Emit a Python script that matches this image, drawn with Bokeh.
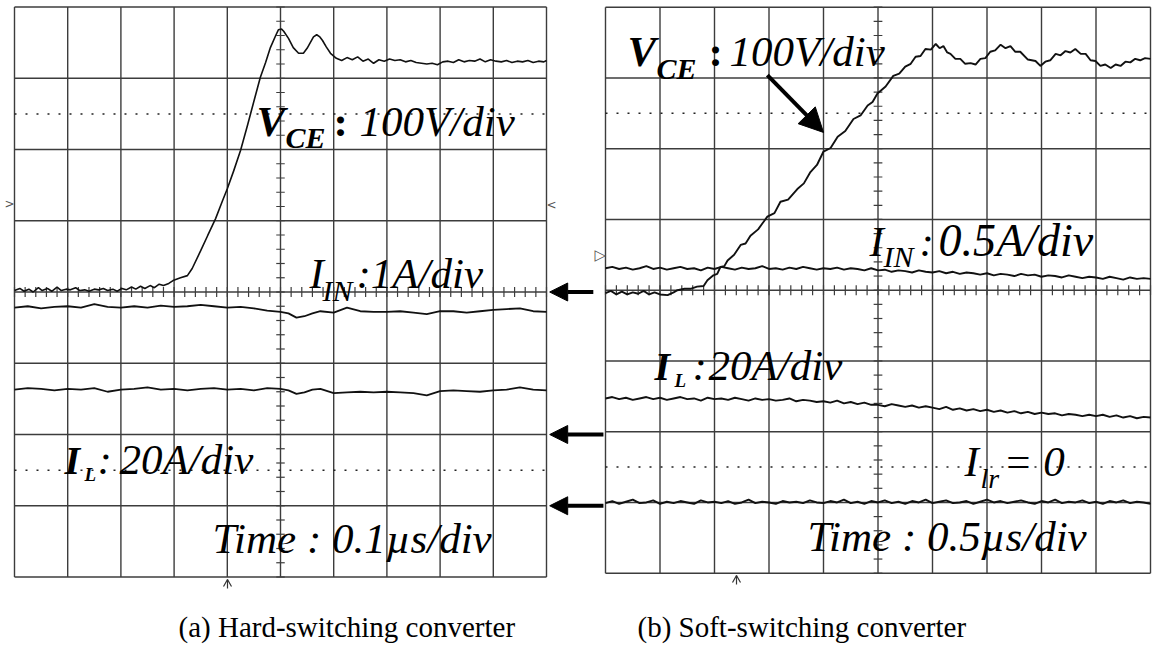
from bokeh.plotting import figure
from bokeh.models import Range1d, Arrow, NormalHead
from bokeh.core.properties import value
from bokeh.embed import file_html
from bokeh.resources import INLINE

# ---------------- data (scope divisions: time 0..10 div, amplitude -4..+4 div) ----------------
# (a) hard-switching converter
a_vce_t = [0.00, 0.10, 0.18, 0.27, 0.35, 0.45, 0.52, 0.62, 0.70, 0.80, 0.88, 0.97, 1.05, 1.15, 1.23,
           1.32, 1.40, 1.50, 1.58, 1.67, 1.75, 1.85, 1.93, 2.02, 2.10, 2.20, 2.28, 2.37, 2.45, 2.55,
           2.63, 2.72, 2.80, 2.90, 2.98, 3.12, 3.25, 3.34, 3.50, 3.63, 3.78, 3.91, 4.00, 4.12, 4.25,
           4.38, 4.49, 4.62, 4.72, 4.81, 4.91, 4.96, 5.02, 5.06, 5.15, 5.24, 5.34, 5.43, 5.50, 5.56,
           5.62, 5.68, 5.74, 5.79, 5.86, 5.94, 6.05, 6.15, 6.25, 6.35, 6.45, 6.55, 6.65, 6.75, 6.85,
           6.95, 7.05, 7.15, 7.25, 7.35, 7.45, 7.55, 7.65, 7.75, 7.85, 7.95, 8.05, 8.15, 8.25, 8.35,
           8.45, 8.55, 8.65, 8.75, 8.85, 8.95, 9.05, 9.15, 9.25, 9.35, 9.45, 9.55, 9.65, 9.75, 9.85,
           9.95, 10.00]
a_vce_v = [0.02, 0.05, 0.01, 0.04, 0.00, 0.06, 0.02, 0.05, 0.01, 0.07, 0.02, 0.04, 0.03, 0.06, 0.02,
           0.03, 0.01, 0.04, 0.03, 0.05, 0.02, 0.04, 0.01, 0.05, 0.03, 0.07, 0.04, 0.08, 0.05, 0.09,
           0.06, 0.11, 0.09, 0.12, 0.16, 0.20, 0.23, 0.33, 0.58, 0.79, 1.03, 1.28, 1.45, 1.70, 1.99,
           2.34, 2.65, 3.01, 3.22, 3.43, 3.60, 3.68, 3.69, 3.66, 3.56, 3.43, 3.35, 3.35, 3.42, 3.50,
           3.58, 3.61, 3.58, 3.53, 3.44, 3.35, 3.28, 3.25, 3.29, 3.26, 3.30, 3.24, 3.27, 3.21, 3.26,
           3.24, 3.27, 3.25, 3.26, 3.23, 3.25, 3.22, 3.21, 3.20, 3.21, 3.19, 3.23, 3.24, 3.22, 3.26,
           3.23, 3.25, 3.24, 3.27, 3.23, 3.26, 3.24, 3.23, 3.25, 3.22, 3.24, 3.23, 3.25, 3.22, 3.24,
           3.23, 3.25]
a_cur_t = [0.00, 0.25, 0.50, 0.75, 1.00, 1.25, 1.50, 1.75, 2.00, 2.25, 2.50, 2.75, 3.00, 3.25, 3.50,
           3.75, 4.00, 4.25, 4.50, 4.75, 5.00, 5.15, 5.30, 5.45, 5.60, 5.75, 6.00, 6.25, 6.50, 6.75,
           7.00, 7.25, 7.50, 7.75, 8.00, 8.25, 8.50, 8.75, 9.00, 9.25, 9.50, 9.75, 10.00]
a_iin_v = [-0.22, -0.20, -0.23, -0.21, -0.20, -0.22, -0.17, -0.21, -0.22, -0.20, -0.22, -0.19, -0.21,
           -0.20, -0.18, -0.20, -0.22, -0.21, -0.23, -0.26, -0.28, -0.30, -0.36, -0.34, -0.30, -0.27,
           -0.29, -0.22, -0.27, -0.28, -0.28, -0.27, -0.29, -0.31, -0.27, -0.27, -0.29, -0.27, -0.25,
           -0.24, -0.23, -0.27, -0.28]
a_il_v = [-1.37, -1.35, -1.36, -1.38, -1.36, -1.37, -1.35, -1.40, -1.37, -1.36, -1.34, -1.37, -1.36,
          -1.38, -1.36, -1.35, -1.37, -1.36, -1.38, -1.35, -1.36, -1.38, -1.43, -1.41, -1.37, -1.36,
          -1.42, -1.41, -1.40, -1.41, -1.40, -1.41, -1.42, -1.45, -1.39, -1.38, -1.39, -1.40, -1.38,
          -1.37, -1.34, -1.37, -1.38]
a_ground_levels = [0, -2, -3]

# (b) soft-switching converter
b_vce_t = [0.00, 0.10, 0.20, 0.30, 0.40, 0.50, 0.60, 0.70, 0.80, 0.90, 1.00, 1.14, 1.25, 1.32, 1.45,
           1.56, 1.68, 1.80, 1.87, 1.98, 2.05, 2.11, 2.18, 2.24, 2.36, 2.48, 2.57, 2.66, 2.80, 2.97,
           3.10, 3.21, 3.35, 3.52, 3.64, 3.76, 3.88, 4.00, 4.13, 4.26, 4.40, 4.55, 4.68, 4.81, 4.90,
           4.99, 5.14, 5.28, 5.39, 5.50, 5.60, 5.69, 5.78, 5.87, 5.97, 6.06, 6.13, 6.20, 6.27, 6.33,
           6.42, 6.51, 6.60, 6.70, 6.79, 6.88, 6.97, 7.06, 7.15, 7.25, 7.34, 7.43, 7.52, 7.61, 7.75,
           7.89, 7.98, 8.07, 8.16, 8.26, 8.35, 8.44, 8.53, 8.62, 8.72, 8.81, 8.90, 8.99, 9.08, 9.17,
           9.27, 9.36, 9.45, 9.54, 9.63, 9.72, 9.81, 9.90, 10.00]
b_vce_v = [-0.04, -0.01, -0.06, -0.02, -0.06, -0.03, -0.05, -0.01, -0.06, -0.03, -0.06, -0.07, -0.03,
           0.00, 0.02, 0.02, 0.05, 0.06, 0.14, 0.21, 0.23, 0.33, 0.34, 0.42, 0.50, 0.64, 0.66, 0.77,
           0.86, 1.04, 1.09, 1.25, 1.28, 1.43, 1.51, 1.67, 1.77, 1.96, 2.01, 2.17, 2.25, 2.42, 2.47,
           2.61, 2.66, 2.78, 2.88, 3.03, 3.06, 3.16, 3.20, 3.30, 3.31, 3.41, 3.40, 3.48, 3.42, 3.45,
           3.36, 3.34, 3.27, 3.27, 3.20, 3.21, 3.19, 3.27, 3.28, 3.37, 3.39, 3.47, 3.42, 3.45, 3.37,
           3.37, 3.26, 3.24, 3.17, 3.23, 3.25, 3.34, 3.32, 3.38, 3.36, 3.41, 3.34, 3.34, 3.25, 3.24,
           3.17, 3.19, 3.14, 3.19, 3.17, 3.23, 3.22, 3.27, 3.25, 3.28, 3.27]
b_cur_t = [0.000, 0.125, 0.250, 0.375, 0.500, 0.625, 0.750, 0.875,
           1.000, 1.125, 1.250, 1.375, 1.500, 1.625, 1.750, 1.875,
           2.000, 2.125, 2.250, 2.375, 2.500, 2.625, 2.750, 2.875,
           3.000, 3.125, 3.250, 3.375, 3.500, 3.625, 3.750, 3.875,
           4.000, 4.125, 4.250, 4.375, 4.500, 4.625, 4.750, 4.875,
           5.000, 5.125, 5.250, 5.375, 5.500, 5.625, 5.750, 5.875,
           6.000, 6.125, 6.250, 6.375, 6.500, 6.625, 6.750, 6.875,
           7.000, 7.125, 7.250, 7.375, 7.500, 7.625, 7.750, 7.875,
           8.000, 8.125, 8.250, 8.375, 8.500, 8.625, 8.750, 8.875,
           9.000, 9.125, 9.250, 9.375, 9.500, 9.625, 9.750, 9.875, 10.000]
b_iin_v = [0.31, 0.33, 0.30, 0.32, 0.29, 0.31, 0.34, 0.30,
           0.32, 0.29, 0.31, 0.33, 0.30, 0.31, 0.28, 0.32,
           0.30, 0.33, 0.31, 0.29, 0.32, 0.30, 0.31, 0.34,
           0.30, 0.31, 0.29, 0.32, 0.30, 0.33, 0.31, 0.29,
           0.31, 0.30, 0.32, 0.29, 0.31, 0.30, 0.28, 0.31,
           0.28, 0.29, 0.26, 0.28, 0.27, 0.25, 0.28, 0.26,
           0.25, 0.27, 0.24, 0.26, 0.23, 0.25, 0.24, 0.22,
           0.24, 0.21, 0.23, 0.22, 0.20, 0.23, 0.21, 0.22,
           0.19, 0.21, 0.20, 0.18, 0.21, 0.19, 0.17, 0.19,
           0.18, 0.16, 0.19, 0.17, 0.15, 0.18, 0.16, 0.17, 0.16]
b_il_v = [-1.53, -1.51, -1.54, -1.52, -1.55, -1.53, -1.51, -1.54,
          -1.52, -1.55, -1.53, -1.51, -1.54, -1.53, -1.56, -1.52,
          -1.54, -1.53, -1.55, -1.52, -1.54, -1.56, -1.53, -1.55,
          -1.54, -1.56, -1.55, -1.53, -1.57, -1.55, -1.56, -1.58,
          -1.57, -1.59, -1.56, -1.60, -1.58, -1.61, -1.59, -1.62,
          -1.62, -1.64, -1.61, -1.63, -1.65, -1.63, -1.66, -1.64,
          -1.66, -1.68, -1.65, -1.69, -1.67, -1.70, -1.68, -1.71,
          -1.69, -1.72, -1.70, -1.73, -1.71, -1.74, -1.72, -1.75,
          -1.73, -1.75, -1.74, -1.77, -1.75, -1.76, -1.78, -1.76,
          -1.78, -1.76, -1.79, -1.77, -1.80, -1.78, -1.81, -1.79, -1.80]
b_ilr_v = [-3.01, -2.98, -3.02, -2.99, -2.96, -3.01, -3.00, -2.97,
           -3.02, -2.99, -3.01, -2.98, -3.00, -3.02, -2.97, -3.00,
           -2.99, -3.01, -2.98, -3.02, -3.00, -2.96, -3.01, -2.99,
           -3.00, -3.02, -2.98, -3.00, -2.99, -3.01, -2.97, -3.00,
           -3.01, -2.98, -3.00, -2.96, -3.01, -2.99, -3.02, -2.98,
           -3.00, -2.97, -3.01, -2.99, -3.02, -2.98, -3.00, -2.96,
           -3.01, -2.99, -2.97, -3.01, -3.00, -2.98, -3.02, -2.99,
           -2.96, -3.00, -2.98, -3.01, -2.99, -2.97, -3.00, -3.02,
           -2.98, -3.00, -2.96, -3.01, -2.99, -3.00, -2.97, -3.01,
           -2.99, -3.02, -2.98, -3.00, -2.97, -3.01, -2.99, -3.00, -3.02]

caption_a = "(a) Hard-switching converter"
caption_b = "(b) Soft-switching converter"

# ---------------- layout ----------------
W, H = 1153, 646
NX, NY = 10, 8
PA = dict(l=14, r=546, t=6.5, b=576.5)
PB = dict(l=605, r=1150, t=6.7, b=572.7)
SERIF = "Liberation Serif"
GRID = "#3c3c3c"
INK = "#111111"
BASE_FIX = 0.33   # Bokeh's svg text sits lower than the requested alphabetic baseline

p = figure(width=W, height=H, x_range=Range1d(0, W), y_range=Range1d(H, 0),
           output_backend="svg", toolbar_location=None, x_axis_type=None, y_axis_type=None,
           min_border=0, outline_line_color=None, background_fill_color="white",
           border_fill_color="white")
p.grid.visible = False


def add_ranges(name, P):
    dx = (P["r"] - P["l"]) / NX
    dy = (P["b"] - P["t"]) / NY
    p.extra_x_ranges[name + "x"] = Range1d(-P["l"] / dx, NX + (W - P["r"]) / dx)
    p.extra_y_ranges[name + "y"] = Range1d(-NY / 2 - (H - P["b"]) / dy, NY / 2 + P["t"] / dy)
    return dict(x_range_name=name + "x", y_range_name=name + "y")


def draw_screen(rn):
    xs = list(range(NX + 1))
    ys = [k - NY // 2 for k in range(NY + 1)]
    p.segment(x0=xs, y0=[-NY / 2] * len(xs), x1=xs, y1=[NY / 2] * len(xs),
              line_color=GRID, line_width=1.4, **rn)
    p.segment(x0=[0] * len(ys), y0=ys, x1=[NX] * len(ys), y1=ys,
              line_color=GRID, line_width=1.4, **rn)
    tx = [k * 0.2 for k in range(NX * 5 + 1)]
    p.segment(x0=tx, y0=[-0.07] * len(tx), x1=tx, y1=[0.07] * len(tx),
              line_color=GRID, line_width=1.2, **rn)
    ty = [-NY / 2 + k * 0.2 for k in range(NY * 5 + 1)]
    p.segment(x0=[NX / 2 - 0.08] * len(ty), y0=ty, x1=[NX / 2 + 0.08] * len(ty), y1=ty,
              line_color=GRID, line_width=1.2, **rn)
    p.segment(x0=[0, 0], y0=[2.5, -2.5], x1=[NX, NX], y1=[2.5, -2.5],
              line_color="#222222", line_width=1.5, line_dash="2 9", **rn)


ra = add_ranges("a", PA)
rb = add_ranges("b", PB)
draw_screen(ra)
draw_screen(rb)

# traces
p.line(a_vce_t, a_vce_v, line_color=INK, line_width=1.6, **ra)
p.line(a_cur_t, a_iin_v, line_color=INK, line_width=1.8, **ra)
p.line(a_cur_t, a_il_v, line_color=INK, line_width=1.8, **ra)
p.line(b_vce_t, b_vce_v, line_color=INK, line_width=1.9, **rb)
p.line(b_cur_t, b_iin_v, line_color=INK, line_width=1.9, **rb)
p.line(b_cur_t, b_il_v, line_color=INK, line_width=1.9, **rb)
p.line(b_cur_t, b_ilr_v, line_color=INK, line_width=1.9, **rb)

# ground-level arrows between the screens
tails = [10.88, 11.07, 11.07]
for lvl, tail in zip(a_ground_levels, tails):
    p.add_layout(Arrow(end=NormalHead(size=18, fill_color="black", line_color="black"),
                       x_start=tail, y_start=lvl, x_end=10.06, y_end=lvl,
                       line_width=4, line_color="black", **ra))

# annotation arrow pointing at V_CE in (b)
p.add_layout(Arrow(end=NormalHead(size=24, fill_color="black", line_color="black"),
                   x_start=2.97, y_start=3.04, x_end=4.0, y_end=2.23,
                   line_width=4, line_color="black", **rb))


def label(txt, x, y, size, style="italic", font=SERIF, color="black"):
    p.text(x=[x], y=[y - BASE_FIX * size], text=[txt], text_font=value(font),
           text_font_size=f"{size}px", text_font_style=style, text_color=color,
           text_baseline="alphabetic", text_align="left")


# (a) labels
label("V", 256, 135, 43, "bold italic")
label("CE", 285, 147, 30, "bold italic")
label(":", 333, 135, 43, "bold")
label("100V/div", 359, 135, 43)
label("I", 309, 287, 43)
label("IN", 322, 300, 30)
label(":1A/div", 356, 287, 43)
label("I", 64, 473, 40, "bold italic")
label("L", 84, 480, 19, "bold italic")
label(":", 97, 473, 43)
label("20A/div", 119, 473, 43)
label("Time : 0.1µs/div", 212, 552, 43)

# (b) labels
label("V", 627, 65, 43, "bold italic")
label("CE", 656, 78, 30, "bold italic")
label(":", 708, 65, 43, "bold")
label("100V/div", 729, 65, 43)
label("I", 869, 255, 43)
label("IN", 883, 266, 30)
label(":", 919, 255, 43)
label("0.5A/div", 938, 255, 46)
label("I", 654, 379, 40, "bold italic")
label("L", 674, 386, 19, "bold italic")
label(":", 692, 379, 43)
label("20A/div", 708, 379, 43)
label("I", 964, 475, 43)
label("lr", 980, 487, 28)
label("= 0", 1003, 475, 43)
label("Time : 0.5µs/div", 807, 550, 43)

# captions
label(caption_a, 178, 636, 29, "normal")
label(caption_b, 637, 636, 29, "normal")

# small scope markers
MK = "DejaVu Sans"
label(">", 4, 207, 12, "normal", MK, "#555555")
label("<", 546, 208, 12, "normal", MK, "#555555")
label("▷", 594, 259, 15, "normal", MK, "#555555")
label("-", 588, 296, 12, "normal", MK, "#333333")

# trigger position marks under the screens
trig_x = [227, 736]
trig_y = [579, 575]
p.multi_line(xs=[[x - 4, x, x + 4] for x in trig_x], ys=[[y + 7, y, y + 7] for y in trig_y],
             line_color="#333333", line_width=1.2)
p.segment(x0=trig_x, y0=trig_y, x1=trig_x, y1=[y + 9 for y in trig_y],
          line_color="#333333", line_width=1.2)

open("out.html", "w").write(file_html(p, INLINE))
